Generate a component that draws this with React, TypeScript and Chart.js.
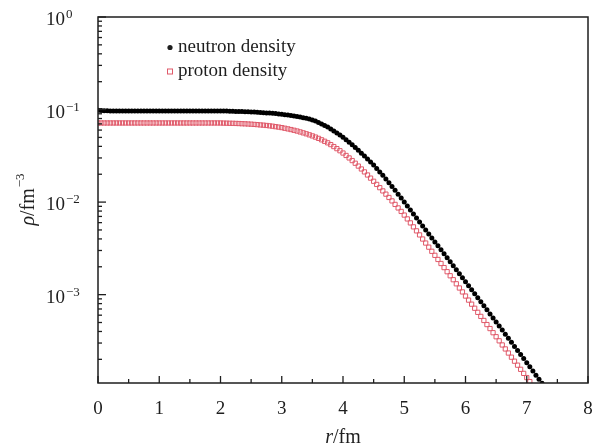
import React, { useEffect, useRef } from 'react';
import { Chart, registerables } from 'chart.js';

Chart.register(...registerables);

// radial mesh (fm)
const R_START = 0;
const R_STEP = 0.05;

// neutron density (fm^-3), r = 0.00 ... 7.25 fm
const neutronDensity = [
  0.0985, 0.0978, 0.0972, 0.0968, 0.0966, 0.0966, 0.0966, 0.0966, 0.0966, 0.0966,
  0.0966, 0.0966, 0.0966, 0.0966, 0.0966, 0.0966, 0.0966, 0.0966, 0.0966, 0.0966,
  0.0966, 0.0966, 0.0966, 0.0966, 0.0966, 0.0966, 0.0966, 0.0966, 0.0966, 0.0966,
  0.0966, 0.0966, 0.0966, 0.0966, 0.0966, 0.0966, 0.0966, 0.0966, 0.0966, 0.0966,
  0.0964, 0.0963, 0.0962, 0.0959, 0.0957, 0.0955, 0.0953, 0.0951, 0.0947, 0.0944,
  0.0941, 0.0938, 0.0933, 0.0929, 0.0925, 0.0920, 0.0916, 0.0910, 0.0904, 0.0897,
  0.0891, 0.0881, 0.0871, 0.0861, 0.0851, 0.0841, 0.0830, 0.0817, 0.0804, 0.0789,
  0.0773, 0.0750, 0.0726, 0.0700, 0.0673, 0.0646, 0.0617, 0.0588, 0.0558, 0.0530,
  0.0501, 0.0472, 0.0444, 0.0416, 0.0389, 0.0363, 0.0338, 0.0315, 0.0292, 0.0271,
  0.0251, 0.0231, 0.0212, 0.01945, 0.01778, 0.01622, 0.01476, 0.0134, 0.01216, 0.01104,
  0.01, 0.009057, 0.008204, 0.00743, 0.00673, 0.006095, 0.005521, 0.005, 0.004529, 0.004102,
  0.003715, 0.003365, 0.003048, 0.002761, 0.0025, 0.002265, 0.002051, 0.001858, 0.001683, 0.001524,
  0.00138, 0.00125, 0.00113, 0.001023, 0.000925, 0.000838, 0.000757, 0.000686, 0.000619, 0.000561,
  0.000507, 0.000458, 0.000414, 0.000374, 0.000338, 0.000305, 0.000276, 0.000249, 0.000225, 0.000204,
  0.000184, 0.000166, 0.00015, 0.000135, 0.000122, 0.00011,
];

// proton density (fm^-3), r = 0.00 ... 7.10 fm
const protonDensity = [
  0.0716, 0.0716, 0.0716, 0.0716, 0.0716, 0.0716, 0.0716, 0.0716, 0.0716, 0.0716,
  0.0716, 0.0716, 0.0716, 0.0716, 0.0716, 0.0716, 0.0716, 0.0716, 0.0716, 0.0716,
  0.0716, 0.0716, 0.0716, 0.0716, 0.0716, 0.0716, 0.0716, 0.0716, 0.0716, 0.0716,
  0.0716, 0.0716, 0.0716, 0.0716, 0.0716, 0.0716, 0.0716, 0.0716, 0.0716, 0.0716,
  0.0716, 0.0714, 0.0713, 0.0711, 0.071, 0.0708, 0.0706, 0.0703, 0.0701, 0.0698,
  0.0695, 0.0691, 0.0687, 0.0682, 0.0678, 0.0673, 0.0667, 0.0661, 0.0653, 0.0646,
  0.0638, 0.0628, 0.0618, 0.0608, 0.0597, 0.0586, 0.0573, 0.056, 0.0547, 0.0533,
  0.0519, 0.0504, 0.0488, 0.0471, 0.0454, 0.0437, 0.0418, 0.0398, 0.0378, 0.0359,
  0.0339, 0.0319, 0.03, 0.0281, 0.0263, 0.0245, 0.0228, 0.0212, 0.01963, 0.01816,
  0.01679, 0.01552, 0.01432, 0.01321, 0.01219, 0.01122, 0.0103, 0.00944, 0.00865, 0.00793,
  0.00724, 0.00658, 0.00596, 0.0054, 0.00489, 0.00442, 0.00399, 0.00361, 0.00326, 0.00294,
  0.00266, 0.0024, 0.00217, 0.00196, 0.00177, 0.0016, 0.00145, 0.00131, 0.00118, 0.00107,
  0.000966, 0.000873, 0.000789, 0.000713, 0.000644, 0.000582, 0.000526, 0.000475, 0.00043, 0.000388,
  0.000351, 0.000317, 0.000286, 0.000259, 0.000234, 0.000211, 0.000191, 0.000173, 0.000156, 0.000141,
  0.000127, 0.000115, 0.000104,
];

const seriesNames = ['neutron density', 'proton density'];
const xTickValues = [0, 1, 2, 3, 4, 5, 6, 7, 8];
const yDecadeExponents = [0, -1, -2, -3];
const xRange = [0, 8];
const yRange = [1.11e-4, 1];

const SERIF = '"Liberation Serif", "Times New Roman", serif';
const INK = '#1e1e1e';
const RED = '#e05a6a';

export default function App() {
  const canvasRef = useRef<HTMLCanvasElement | null>(null);

  useEffect(() => {
    const canvas = canvasRef.current;
    if (!canvas) return;

    const toPoints = (arr: number[]) =>
      arr.map((v, i) => ({ x: +(R_START + i * R_STEP).toFixed(2), y: v }));

    const decor = {
      id: 'decor',
      afterDatasetsDraw(chart: any) {
        const ctx: CanvasRenderingContext2D = chart.ctx;
        const { left, right, top, bottom } = chart.chartArea;
        const xs = chart.scales.x;
        const ys = chart.scales.y;
        ctx.save();

        // frame
        ctx.strokeStyle = INK;
        ctx.lineWidth = 1.5;
        ctx.strokeRect(left, top, right - left, bottom - top);

        // x ticks (inward)
        ctx.lineWidth = 1.3;
        for (let k = 0; k <= 16; k++) {
          const v = xRange[0] + k * 0.5;
          const px = xs.getPixelForValue(v);
          const len = k % 2 === 0 ? 7 : 4;
          ctx.beginPath();
          ctx.moveTo(px, bottom);
          ctx.lineTo(px, bottom - len);
          ctx.stroke();
        }
        // y ticks (inward)
        for (let e = -4; e <= 0; e++) {
          for (let m = 1; m <= 9; m++) {
            const v = m * Math.pow(10, e);
            if (v < yRange[0] || v > yRange[1]) continue;
            const py = ys.getPixelForValue(v);
            const len = m === 1 ? 8 : 4;
            ctx.beginPath();
            ctx.moveTo(left, py);
            ctx.lineTo(left + len, py);
            ctx.stroke();
          }
        }

        // y tick labels 10^n
        ctx.fillStyle = INK;
        ctx.textBaseline = 'alphabetic';
        for (const e of yDecadeExponents) {
          const py = ys.getPixelForValue(Math.pow(10, e));
          ctx.font = `19px ${SERIF}`;
          ctx.textAlign = 'right';
          ctx.fillText('10', left - 33, py + 8);
          ctx.font = `13px ${SERIF}`;
          ctx.textAlign = 'left';
          ctx.fillText(e === 0 ? '0' : '\u2212' + String(-e), left - 32, py + 1);
        }

        // x title: r/fm
        {
          ctx.font = `italic 20px ${SERIF}`;
          const wr = ctx.measureText('r').width;
          ctx.font = `20px ${SERIF}`;
          const wf = ctx.measureText('/fm').width;
          const cx = xs.getPixelForValue(4);
          const x0 = cx - (wr + wf) / 2;
          const by = 443;
          ctx.textAlign = 'left';
          ctx.font = `italic 20px ${SERIF}`;
          ctx.fillText('r', x0, by);
          ctx.font = `20px ${SERIF}`;
          ctx.fillText('/fm', x0 + wr, by);
        }

        // y title: rho/fm^-3
        {
          ctx.save();
          ctx.translate(28, (top + bottom) / 2);
          ctx.rotate(-Math.PI / 2);
          ctx.font = `italic 20px ${SERIF}`;
          const wp = ctx.measureText('\u03c1').width;
          ctx.font = `20px ${SERIF}`;
          const wf = ctx.measureText('/fm').width;
          ctx.font = `13px ${SERIF}`;
          const ws = ctx.measureText('\u22123').width;
          const x0 = -(wp + wf + ws) / 2;
          ctx.textAlign = 'left';
          ctx.font = `italic 20px ${SERIF}`;
          ctx.fillText('\u03c1', x0, 6);
          ctx.font = `20px ${SERIF}`;
          ctx.fillText('/fm', x0 + wp, 6);
          ctx.font = `13px ${SERIF}`;
          ctx.fillText('\u22123', x0 + wp + wf + 1, -4);
          ctx.restore();
        }

        // legend
        ctx.font = `19px ${SERIF}`;
        ctx.textAlign = 'left';
        ctx.fillStyle = INK;
        ctx.beginPath();
        ctx.arc(170, 47.5, 2.6, 0, Math.PI * 2);
        ctx.fill();
        ctx.fillText(seriesNames[0], 178, 52);
        ctx.strokeStyle = RED;
        ctx.lineWidth = 1;
        ctx.strokeRect(167.5, 69, 5, 5);
        ctx.fillText(seriesNames[1], 178, 76);

        ctx.restore();
      },
    };

    const chart = new Chart(canvas, {
      type: 'scatter',
      data: {
        datasets: [
          {
            label: seriesNames[1],
            data: toPoints(protonDensity),
            pointStyle: 'rect',
            pointRadius: 3,
            pointBorderWidth: 1,
            pointBorderColor: RED,
            pointBackgroundColor: 'rgba(255,255,255,0)',
            showLine: false,
          },
          {
            label: seriesNames[0],
            data: toPoints(neutronDensity),
            pointStyle: 'circle',
            pointRadius: 2.5,
            pointBorderWidth: 0,
            pointBackgroundColor: '#000',
            showLine: false,
          },
        ],
      },
      options: {
        animation: false,
        responsive: false,
        devicePixelRatio: 1,
        events: [],
        layout: { padding: { top: 17, right: 5, left: 0, bottom: 0 } },
        plugins: {
          legend: { display: false },
          tooltip: { enabled: false },
        },
        scales: {
          x: {
            type: 'linear',
            min: xRange[0],
            max: xRange[1],
            afterFit: (s: any) => {
              s.height = 65;
              s.paddingLeft = 0;
              s.paddingRight = 0;
            },
            afterBuildTicks: (s: any) => {
              s.ticks = xTickValues.map((v) => ({ value: v }));
            },
            ticks: {
              color: INK,
              font: { family: SERIF, size: 19 },
              padding: 15,
              maxRotation: 0,
            },
            grid: { display: false, drawTicks: false },
            border: { display: false },
          },
          y: {
            type: 'logarithmic',
            min: yRange[0],
            max: yRange[1],
            afterFit: (s: any) => {
              s.width = 98;
              s.paddingTop = 0;
              s.paddingBottom = 0;
            },
            ticks: { display: false },
            grid: { display: false, drawTicks: false },
            border: { display: false },
          },
        },
      },
      plugins: [decor],
    } as any);

    return () => chart.destroy();
  }, []);

  return (
    <div style={{ position: 'fixed', left: 0, top: 0, width: 593, height: 448, background: '#fff' }}>
      <canvas ref={canvasRef} width={593} height={448} style={{ display: 'block' }} />
    </div>
  );
}
